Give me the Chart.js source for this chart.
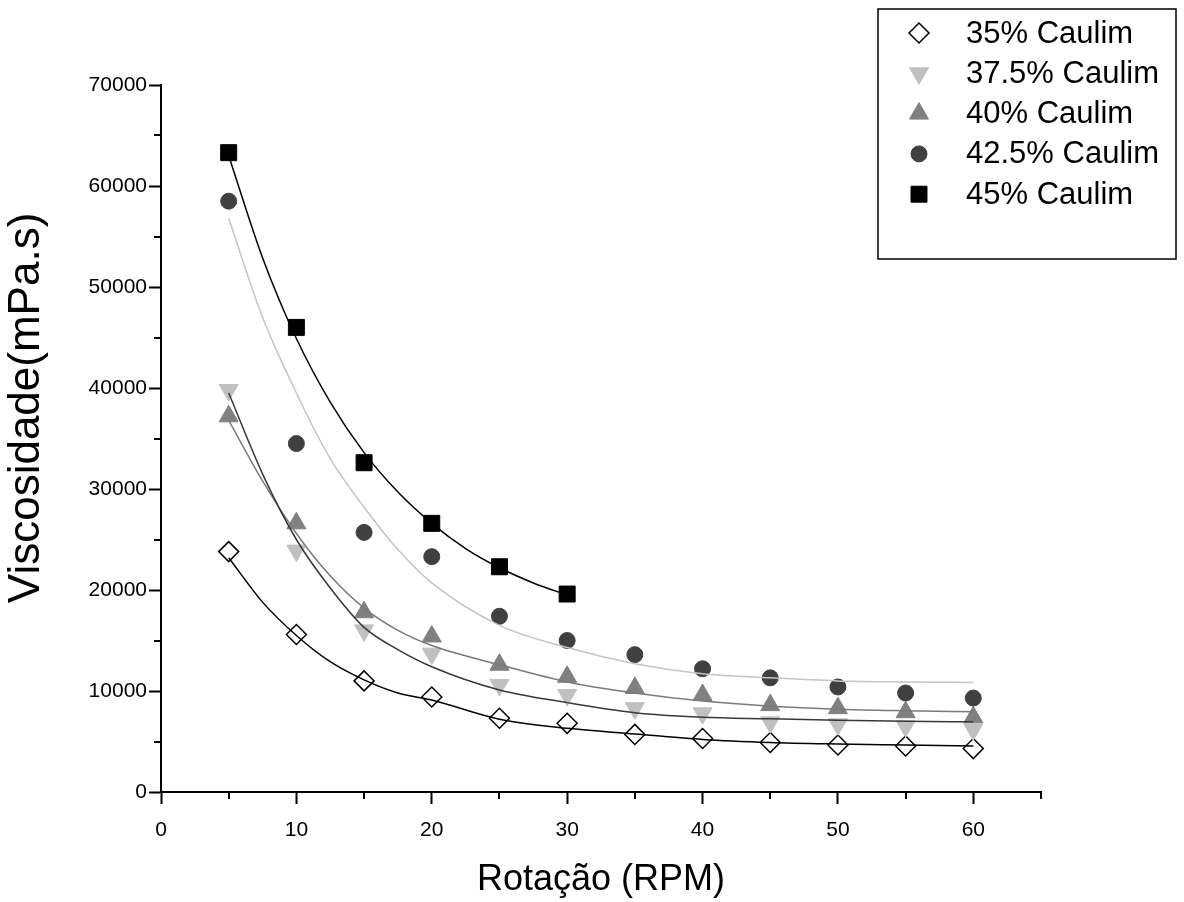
<!DOCTYPE html>
<html>
<head>
<meta charset="utf-8">
<title>Viscosidade x Rotação</title>
<script src="https://cdn.jsdelivr.net/npm/chart.js@4.4.0/dist/chart.umd.min.js"></script>
<style>
  html, body { margin: 0; padding: 0; background: #ffffff; }
  #wrap { width: 1184px; height: 902px; }
</style>
</head>
<body>
<div id="wrap"><canvas id="chartCanvas" width="1184" height="902"></canvas></div>
<script>
// Rotation (RPM) where each sample was measured
const rpm = [5, 10, 15, 20, 25, 30, 35, 40, 45, 50, 55, 60];
const rpm45 = [5, 10, 15, 20, 25, 30];

// Measured viscosity (mPa.s) per kaolin content
const caulim35 = [23800, 15600, 11000, 9400, 7300, 6800, 5700, 5300, 4900, 4650, 4550, 4300];
const caulim375 = [39800, 23900, 16000, 13700, 10600, 9600, 8300, 7800, 6900, 6700, 6500, 6200];
const caulim40 = [37200, 26600, 17800, 15400, 12600, 11400, 10300, 9600, 8600, 8300, 7900, 7400];
const caulim425 = [58500, 34500, 25700, 23300, 17400, 15000, 13600, 12200, 11300, 10400, 9800, 9300];
const caulim45 = [63300, 46000, 32600, 26600, 22300, 19600];

// Fitted curves
const fitRpm = [5, 7.5, 10, 12.5, 15, 17.5, 20, 25, 30, 35, 40, 45, 50, 55, 60];
const fitRpm45 = [5, 7.5, 10, 12.5, 15, 17.5, 20, 22.5, 25, 27.5, 30];
const fit35 = [23200, 18800, 15500, 12900, 11100, 9800, 9100, 7200, 6300, 5750, 5200, 4900, 4750, 4650, 4550];
const fit375 = [39500, 31500, 25000, 20200, 16300, 14100, 12400, 10100, 8850, 7850, 7400, 7250, 7100, 7000, 6950];
const fit40 = [36800, 30800, 25600, 21400, 18200, 16000, 14500, 12600, 10900, 9800, 9000, 8500, 8200, 8050, 7950];
const fit425 = [56800, 47000, 39500, 33000, 28200, 24000, 20700, 16500, 14300, 12700, 11700, 11300, 11000, 10900, 10850];
const fit45 = [63000, 52900, 44900, 38600, 33600, 29700, 26600, 24100, 22200, 20700, 19500];

// Axis ticks
const xMajorTicks = [0, 10, 20, 30, 40, 50, 60];
const xMinorTicks = [5, 15, 25, 35, 45, 55, 65];
const yMinorTicks = [5000, 15000, 25000, 35000, 45000, 55000, 65000];

const FONT = '"Liberation Sans", Arial, sans-serif';

const toPoints = (xs, ys) => xs.map((x, i) => ({ x: x, y: ys[i] }));

function markerSet(label, xs, ys, style, order) {
  return Object.assign({
    label: label,
    data: toPoints(xs, ys),
    showLine: false,
    order: order
  }, style);
}

function fitSet(xs, ys, color) {
  return {
    label: '',
    isFit: true,
    data: toPoints(xs, ys),
    showLine: true,
    borderColor: color,
    borderWidth: 1.5,
    pointRadius: 0,
    cubicInterpolationMode: 'monotone',
    order: 0
  };
}

// Short outward ticks between the major ones
const minorTicksPlugin = {
  id: 'minorTicks',
  afterDraw(chart) {
    const ctx = chart.ctx;
    const xs = chart.scales.x;
    const ys = chart.scales.y;
    ctx.save();
    ctx.strokeStyle = '#000';
    ctx.lineWidth = 2;
    ctx.beginPath();
    xMinorTicks.forEach(v => {
      const px = Math.round(xs.getPixelForValue(v));
      ctx.moveTo(px, ys.bottom);
      ctx.lineTo(px, ys.bottom + 7);
    });
    yMinorTicks.forEach(v => {
      const py = Math.round(ys.getPixelForValue(v));
      ctx.moveTo(xs.left, py);
      ctx.lineTo(xs.left - 7, py);
    });
    ctx.stroke();
    ctx.restore();
  }
};

// Boxed legend in the top-right corner, built from the marker datasets
const boxLegendPlugin = {
  id: 'boxLegend',
  afterDraw(chart) {
    const ctx = chart.ctx;
    ctx.save();
    ctx.strokeStyle = '#000';
    ctx.lineWidth = 1.5;
    ctx.strokeRect(878, 9, 298, 250);
    ctx.font = '31px ' + FONT;
    ctx.textBaseline = 'middle';
    ctx.textAlign = 'left';
    const markers = chart.data.datasets.filter(ds => !ds.isFit);
    markers.forEach((ds, i) => {
      const y = 33 + i * 40.3;
      ctx.fillStyle = ds.backgroundColor;
      ctx.strokeStyle = ds.borderColor;
      ctx.lineWidth = ds.borderWidth;
      Chart.helpers.drawPoint(ctx, {
        pointStyle: ds.pointStyle,
        radius: ds.pointRadius,
        rotation: ds.rotation || 0,
        borderWidth: ds.borderWidth
      }, 919, y);
      ctx.fillStyle = '#000';
      ctx.fillText(ds.label, 966, y + 1);
    });
    ctx.restore();
  }
};

const datasets = [
  markerSet('35% Caulim', rpm, caulim35, {
    pointStyle: 'rectRot', pointRadius: 10,
    backgroundColor: '#ffffff', borderColor: '#000000', borderWidth: 1.5
  }, 5),
  markerSet('37.5% Caulim', rpm, caulim375, {
    pointStyle: 'triangle', rotation: 180, pointRadius: 11,
    backgroundColor: '#c0c0c0', borderColor: '#c0c0c0', borderWidth: 1
  }, 4),
  markerSet('40% Caulim', rpm, caulim40, {
    pointStyle: 'triangle', pointRadius: 11,
    backgroundColor: '#808080', borderColor: '#808080', borderWidth: 1
  }, 3),
  markerSet('42.5% Caulim', rpm, caulim425, {
    pointStyle: 'circle', pointRadius: 8,
    backgroundColor: '#404040', borderColor: '#404040', borderWidth: 1
  }, 2),
  markerSet('45% Caulim', rpm45, caulim45, {
    pointStyle: 'rect', pointRadius: 11.3,
    backgroundColor: '#000000', borderColor: '#000000', borderWidth: 1
  }, 1),
  fitSet(fitRpm, fit35, '#000000'),
  fitSet(fitRpm, fit375, '#383838'),
  fitSet(fitRpm, fit40, '#7a7a7a'),
  fitSet(fitRpm, fit425, '#c4c4c4'),
  fitSet(fitRpm45, fit45, '#000000')
];

const axisGrid = {
  drawOnChartArea: false,
  drawTicks: true,
  tickLength: 12,
  tickWidth: 2,
  tickColor: '#000'
};

try {
  const ctx = document.getElementById('chartCanvas').getContext('2d');
  new Chart(ctx, {
    type: 'scatter',
    data: { datasets: datasets },
    options: {
      responsive: false,
      animation: false,
      devicePixelRatio: 1,
      layout: { padding: { top: 85, right: 143, bottom: 0, left: 0 } },
      plugins: {
        legend: { display: false },
        tooltip: { enabled: false }
      },
      scales: {
        x: {
          type: 'linear',
          min: 0,
          max: 65,
          afterFit(scale) { scale.height = 110; },
          afterBuildTicks(scale) { scale.ticks = xMajorTicks.map(v => ({ value: v })); },
          border: { display: true, color: '#000', width: 2 },
          grid: axisGrid,
          ticks: {
            color: '#000',
            padding: 14,
            maxRotation: 0,
            font: { family: FONT, size: 21 },
            callback: v => String(v)
          },
          title: {
            display: true,
            text: 'Rotação (RPM)',
            color: '#000',
            font: { family: FONT, size: 36 },
            padding: 0
          }
        },
        y: {
          type: 'linear',
          min: 0,
          max: 70000,
          afterFit(scale) { scale.width = 161; },
          border: { display: true, color: '#000', width: 2 },
          grid: axisGrid,
          ticks: {
            stepSize: 10000,
            color: '#000',
            padding: 2,
            font: { family: FONT, size: 21 },
            callback: v => String(v)
          },
          title: {
            display: true,
            // leading spaces nudge the visible title upward like the original
            text: '     Viscosidade(mPa.s)',
            color: '#000',
            font: { family: FONT, size: 44 },
            padding: 0
          }
        }
      }
    },
    plugins: [minorTicksPlugin, boxLegendPlugin]
  });
} catch (error) {
  console.error('Error initializing chart:', error);
}
</script>
</body>
</html>
